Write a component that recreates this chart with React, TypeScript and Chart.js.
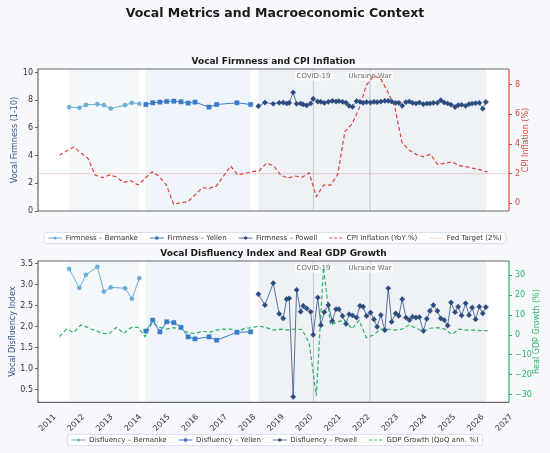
import React, { useEffect, useRef } from "react";
import { Chart, registerables } from "chart.js";

Chart.register(...registerables);

const FONT = "'DejaVu Sans', 'Liberation Sans', Arial, sans-serif";

// ---------- axes: extents and tick labels ----------
const X_MIN = 2010.5;
const X_MAX = 2027.0;
const YEAR_TICKS = [2011, 2012, 2013, 2014, 2015, 2016, 2017, 2018, 2019, 2020, 2021, 2022, 2023, 2024, 2025, 2026, 2027];
const FIRMNESS_RANGE = [0, 10.25];
const FIRMNESS_TICKS = [0, 2, 4, 6, 8, 10];
const CPI_RANGE = [-0.52, 9.06];
const CPI_TICKS = [0, 2, 4, 6, 8];
const DISFLUENCY_RANGE = [0.2, 3.57];
const DISFLUENCY_TICKS = [0.5, 1.0, 1.5, 2.0, 2.5, 3.0, 3.5];
const GDP_RANGE = [-33.8, 37.2];
const GDP_TICKS = [-30, -20, -10, 0, 10, 20, 30];

// ---------- quarterly macro series ----------
const QUARTERS = [
  2011.25, 2011.5, 2011.75,
  2012.0, 2012.25, 2012.5, 2012.75,
  2013.0, 2013.25, 2013.5, 2013.75,
  2014.0, 2014.25, 2014.5, 2014.75,
  2015.0, 2015.25, 2015.5, 2015.75,
  2016.0, 2016.25, 2016.5, 2016.75,
  2017.0, 2017.25, 2017.5, 2017.75,
  2018.0, 2018.25, 2018.5, 2018.75,
  2019.0, 2019.25, 2019.5, 2019.75,
  2020.0, 2020.25, 2020.5, 2020.75,
  2021.0, 2021.25, 2021.5, 2021.75,
  2022.0, 2022.25, 2022.5, 2022.75,
  2023.0, 2023.25, 2023.5, 2023.75,
  2024.0, 2024.25, 2024.5, 2024.75,
  2025.0, 2025.25, 2025.5, 2025.75,
  2026.0, 2026.25,
];
const CPI_YOY = [
  3.24, 3.53, 3.80, 3.41, 3.03, 1.91, 1.73, 1.91, 1.77, 1.41,
  1.53, 1.23, 1.68, 2.13, 1.80, 1.23, -0.07, 0.04, 0.11, 0.56,
  1.05, 1.01, 1.17, 1.84, 2.52, 1.91, 2.02, 2.13, 2.20, 2.70,
  2.54, 1.90, 1.70, 1.84, 1.75, 2.05, 0.45, 1.23, 1.23, 1.95,
  4.83, 5.35, 6.40, 7.95, 8.58, 8.43, 7.53, 6.50, 4.10, 3.59,
  3.30, 3.14, 3.30, 2.63, 2.70, 2.80, 2.54, 2.47, 2.36, 2.25,
  2.11,
];
const GDP_QOQ = [
  -0.8, 3.0, 1.3, 5.0, 3.7, 2.3, 0.8, 0.7, 3.9, 0.8,
  3.7, 3.9, -0.8, 6.2, 3.9, 3.0, 3.7, 3.0, 1.2, 0.7,
  2.0, 1.3, 2.5, 3.0, 3.0, 2.0, 3.4, 3.7, 4.5, 3.7,
  2.5, 3.0, 2.5, 3.0, 2.8, -4.0, -30.5, 33.8, 5.0, 6.7,
  7.4, 3.0, 7.4, -1.3, 0.0, 3.0, 3.0, 2.5, 3.0, 5.0,
  3.4, 2.0, 3.4, 3.7, 3.0, 0.3, 3.0, 2.5, 2.5, 2.2,
  2.2,
];
const FED_TARGET = 2;

// ---------- speeches by chair ----------
const BERNANKE_DATES = [2011.59, 2011.95, 2012.18, 2012.58, 2012.81, 2013.05, 2013.55, 2013.79, 2014.05];
const BERNANKE_FIRMNESS = [7.50, 7.45, 7.66, 7.71, 7.64, 7.40, 7.64, 7.81, 7.74];
const BERNANKE_DISFLUENCY = [3.38, 2.93, 3.24, 3.43, 2.84, 2.94, 2.92, 2.67, 3.16];

const YELLEN_DATES = [2014.28, 2014.52, 2014.77, 2015.01, 2015.26, 2015.51, 2015.76, 2016.0, 2016.49, 2016.76, 2017.47, 2017.95];
const YELLEN_FIRMNESS = [7.69, 7.81, 7.86, 7.91, 7.93, 7.88, 7.79, 7.86, 7.50, 7.69, 7.81, 7.69];
const YELLEN_DISFLUENCY = [1.90, 2.16, 1.88, 2.12, 2.10, 1.99, 1.76, 1.71, 1.76, 1.68, 1.87, 1.88];

const POWELL_DATES = [
  2018.22, 2018.45, 2018.74, 2018.95, 2019.09, 2019.21, 2019.30, 2019.44, 2019.56, 2019.70,
  2019.79, 2019.91, 2020.05, 2020.14, 2020.30, 2020.41, 2020.53, 2020.67, 2020.81, 2020.94,
  2021.04, 2021.17, 2021.29, 2021.40, 2021.52, 2021.66, 2021.78, 2021.89, 2022.01, 2022.15,
  2022.27, 2022.38, 2022.51, 2022.65, 2022.77, 2022.89, 2023.03, 2023.14, 2023.26, 2023.39,
  2023.51, 2023.62, 2023.74, 2023.86, 2024.00, 2024.12, 2024.23, 2024.35, 2024.49, 2024.61,
  2024.73, 2024.85, 2024.97, 2025.11, 2025.22, 2025.34, 2025.48, 2025.60, 2025.71, 2025.83,
  2025.96, 2026.08, 2026.19,
];
const POWELL_FIRMNESS = [
  7.57, 7.83, 7.74, 7.81, 7.83, 7.76, 7.81, 8.56, 7.74, 7.76,
  7.69, 7.62, 7.76, 8.10, 7.90, 7.88, 7.81, 7.88, 7.95, 7.90,
  7.93, 7.88, 7.81, 7.59, 7.52, 7.93, 7.88, 7.81, 7.86, 7.83,
  7.88, 7.86, 7.90, 7.95, 7.95, 7.90, 7.81, 7.81, 7.59, 7.86,
  7.90, 7.81, 7.76, 7.83, 7.71, 7.76, 7.76, 7.81, 7.81, 8.00,
  7.83, 7.76, 7.67, 7.50, 7.64, 7.67, 7.59, 7.71, 7.76, 7.78,
  7.81, 7.38, 7.86,
];
const POWELL_DISFLUENCY = [
  2.78, 2.52, 3.04, 2.31, 2.20, 2.66, 2.68, 0.33, 2.88, 2.36,
  2.50, 2.44, 2.36, 1.81, 2.70, 2.04, 2.35, 2.52, 2.14, 2.42,
  2.42, 2.26, 2.07, 2.30, 2.27, 2.22, 2.50, 2.48, 2.26, 2.34,
  2.18, 2.00, 2.28, 1.92, 2.92, 2.12, 2.32, 2.26, 2.66, 2.22,
  2.16, 2.24, 2.22, 2.23, 1.90, 2.19, 2.38, 2.52, 2.38, 2.20,
  2.16, 2.03, 2.58, 2.35, 2.48, 2.27, 2.56, 2.28, 2.46, 2.18,
  2.48, 2.32, 2.47,
];

// ---------- events ----------
const EVENT_NAMES = ["COVID-19", "Ukraine War"];
const EVENT_DATES = [2020.15, 2022.13];

// ---------- styles ----------
const BERNANKE_COLOR = "#6baed6";
const YELLEN_COLOR = "#3a7bc8";
const POWELL_COLOR = "#2b4a7e";
const POWELL_LINE = "rgba(43,74,126,0.75)";
const CPI_COLOR = "#d9463b";
const GDP_COLOR = "#2db565";
const SPINE = "#666666";
const TICK_TEXT = "#333333";
const AXIS_TITLE = "#34568f";
const LEGEND_FONT = 7;
const LEGEND_BOX = 14;

const pts = (xs: number[], ys: number[]) => xs.map((x, i) => ({ x, y: ys[i] }));

const CHAIR_SPANS = [
  { from: Math.min(...BERNANKE_DATES), to: Math.max(...BERNANKE_DATES), color: "rgba(107,174,214,0.07)" },
  { from: Math.min(...YELLEN_DATES), to: Math.max(...YELLEN_DATES), color: "rgba(58,123,200,0.08)" },
  { from: Math.min(...POWELL_DATES), to: Math.max(...POWELL_DATES), color: "rgba(43,74,126,0.08)" },
];
const EVENTS = EVENT_NAMES.map((name, i) => ({ name, at: EVENT_DATES[i] }));

function roundRectPath(ctx: CanvasRenderingContext2D, x: number, y: number, w: number, h: number, r: number) {
  ctx.beginPath();
  ctx.moveTo(x + r, y);
  ctx.lineTo(x + w - r, y);
  ctx.arcTo(x + w, y, x + w, y + r, r);
  ctx.lineTo(x + w, y + h - r);
  ctx.arcTo(x + w, y + h, x + w - r, y + h, r);
  ctx.lineTo(x + r, y + h);
  ctx.arcTo(x, y + h, x, y + h - r, r);
  ctx.lineTo(x, y + r);
  ctx.arcTo(x, y, x + r, y, r);
  ctx.closePath();
}

function drawMarker(ctx: CanvasRenderingContext2D, style: string, x: number, y: number, r: number, color: string) {
  ctx.save();
  ctx.fillStyle = color;
  ctx.beginPath();
  if (style === "rect") {
    ctx.rect(x - r, y - r, 2 * r, 2 * r);
  } else if (style === "rectRot") {
    ctx.moveTo(x, y - r * 1.3);
    ctx.lineTo(x + r * 1.3, y);
    ctx.lineTo(x, y + r * 1.3);
    ctx.lineTo(x - r * 1.3, y);
    ctx.closePath();
  } else {
    ctx.arc(x, y, r, 0, Math.PI * 2);
  }
  ctx.fill();
  ctx.restore();
}

const decor = {
  id: "decor",
  beforeDraw(chart: any) {
    const { ctx, chartArea: ca } = chart;
    ctx.save();
    ctx.fillStyle = "#ffffff";
    ctx.fillRect(ca.left, ca.top, ca.right - ca.left, ca.bottom - ca.top);
    const lg = chart.legend;
    if (lg && lg.legendHitBoxes && lg.legendHitBoxes.length) {
      const hb = lg.legendHitBoxes;
      const l = Math.min(...hb.map((h: any) => h.left)) - 4;
      const r = Math.max(...hb.map((h: any) => h.left + h.width)) + 4;
      const cy = hb[0].top + LEGEND_FONT / 2;
      roundRectPath(ctx, l, cy - 5.6, r - l, 11.2, 2);
      ctx.fillStyle = "rgba(255,255,255,0.9)";
      ctx.fill();
      ctx.strokeStyle = "#ccd5e6";
      ctx.lineWidth = 0.8;
      ctx.stroke();
    }
    ctx.restore();
  },
  beforeDatasetsDraw(chart: any) {
    const { ctx, chartArea: ca, scales } = chart;
    const xs = scales.x;
    ctx.save();
    ctx.beginPath();
    ctx.rect(ca.left, ca.top, ca.right - ca.left, ca.bottom - ca.top);
    ctx.clip();
    for (const s of CHAIR_SPANS) {
      const a = xs.getPixelForValue(s.from);
      const b = xs.getPixelForValue(s.to);
      ctx.fillStyle = s.color;
      ctx.fillRect(a, ca.top, b - a, ca.bottom - ca.top);
    }
    ctx.strokeStyle = "rgba(120,120,135,0.45)";
    ctx.lineWidth = 0.8;
    for (const e of EVENTS) {
      const px = xs.getPixelForValue(e.at);
      ctx.beginPath();
      ctx.moveTo(px, ca.top);
      ctx.lineTo(px, ca.bottom);
      ctx.stroke();
    }
    ctx.font = `7px ${FONT}`;
    ctx.textAlign = "center";
    ctx.textBaseline = "middle";
    for (const e of EVENTS) {
      const px = xs.getPixelForValue(e.at);
      const w = ctx.measureText(e.name).width;
      const cy = ca.top + 7;
      ctx.fillStyle = "rgba(255,255,255,0.75)";
      ctx.fillRect(px - w / 2 - 1.5, cy - 4.5, w + 3, 9);
      ctx.fillStyle = "#6a6a6a";
      ctx.fillText(e.name, px, cy);
    }
    ctx.restore();
  },
  afterDatasetsDraw(chart: any, _a: any, o: any) {
    const { ctx, chartArea: ca } = chart;
    ctx.save();
    ctx.lineWidth = 1.2;
    ctx.strokeStyle = SPINE;
    ctx.beginPath();
    ctx.moveTo(ca.right, ca.top);
    ctx.lineTo(ca.left, ca.top);
    ctx.lineTo(ca.left, ca.bottom);
    ctx.lineTo(ca.right, ca.bottom);
    ctx.stroke();
    ctx.strokeStyle = o.rightColor;
    ctx.beginPath();
    ctx.moveTo(ca.right, ca.top);
    ctx.lineTo(ca.right, ca.bottom);
    ctx.stroke();
    ctx.restore();
  },
  afterDraw(chart: any, _a: any, o: any) {
    const { ctx, chartArea: ca } = chart;
    const midY = (ca.top + ca.bottom) / 2;
    ctx.save();
    ctx.font = `8px ${FONT}`;
    ctx.textAlign = "center";
    ctx.textBaseline = "middle";
    ctx.translate(o.leftTitleX, midY);
    ctx.rotate(-Math.PI / 2);
    ctx.fillStyle = AXIS_TITLE;
    ctx.fillText(o.leftTitle, 0, 0);
    ctx.restore();
    ctx.save();
    ctx.font = `8px ${FONT}`;
    ctx.textAlign = "center";
    ctx.textBaseline = "middle";
    ctx.translate(ca.right + o.rightTitleOffset, midY);
    ctx.rotate(-Math.PI / 2);
    ctx.fillStyle = o.rightColor;
    ctx.fillText(o.rightTitle, 0, 0);
    ctx.restore();

    const lg = chart.legend;
    if (lg && lg.legendHitBoxes) {
      lg.legendHitBoxes.forEach((hb: any, i: number) => {
        const item = lg.legendItems[i];
        const ds: any = chart.data.datasets[item.datasetIndex];
        const y = hb.top + LEGEND_FONT / 2;
        ctx.save();
        ctx.strokeStyle = ds.borderColor;
        ctx.lineWidth = ds.borderWidth;
        ctx.setLineDash(ds.borderDash ? [3, 2] : []);
        ctx.beginPath();
        ctx.moveTo(hb.left, y);
        ctx.lineTo(hb.left + LEGEND_BOX, y);
        ctx.stroke();
        ctx.restore();
        if (ds.pointRadius > 0) {
          drawMarker(ctx, ds.pointStyle, hb.left + LEGEND_BOX / 2, y, 1.6, ds.pointBackgroundColor);
        }
      });
    }
  },
};

const legendLabels = (chart: any) =>
  (Chart.defaults.plugins.legend.labels as any).generateLabels(chart).map((it: any) => ({
    ...it,
    fillStyle: "rgba(0,0,0,0)",
    strokeStyle: "rgba(0,0,0,0)",
    lineWidth: 0,
  }));

const tickGrid = (color: string) => ({
  display: true,
  drawOnChartArea: false,
  drawTicks: true,
  tickLength: 3,
  color,
  lineWidth: 1,
});

const fixedTicks = (vals: number[]) => (s: any) => {
  s.ticks = vals.map((v) => ({ value: v }));
};

const legendOpts = {
  position: "bottom" as const,
  labels: {
    boxWidth: LEGEND_BOX,
    boxHeight: 0,
    padding: 12,
    color: TICK_TEXT,
    font: { size: LEGEND_FONT, family: FONT },
    generateLabels: legendLabels,
  },
};

function chairSeries(label: string, xs: number[], ys: number[], color: string, line: string, style: string, r: number, axis: string) {
  return {
    label,
    data: pts(xs, ys),
    borderColor: line,
    backgroundColor: color,
    pointBackgroundColor: color,
    pointBorderColor: color,
    pointBorderWidth: 0.5,
    borderWidth: 1,
    pointStyle: style,
    pointRadius: r,
    yAxisID: axis,
  };
}

function topConfig(): any {
  return {
    type: "line",
    data: {
      datasets: [
        chairSeries("Firmness \u2013 Bernanke", BERNANKE_DATES, BERNANKE_FIRMNESS, BERNANKE_COLOR, BERNANKE_COLOR, "circle", 2.1, "y"),
        chairSeries("Firmness \u2013 Yellen", YELLEN_DATES, YELLEN_FIRMNESS, YELLEN_COLOR, YELLEN_COLOR, "rect", 3.0, "y"),
        chairSeries("Firmness \u2013 Powell", POWELL_DATES, POWELL_FIRMNESS, POWELL_COLOR, POWELL_LINE, "rectRot", 2.6, "y"),
        {
          label: "CPI Inflation (YoY %)",
          data: pts(QUARTERS, CPI_YOY),
          borderColor: CPI_COLOR,
          backgroundColor: CPI_COLOR,
          borderWidth: 1.2,
          borderDash: [4, 2.5],
          pointRadius: 0,
          yAxisID: "y1",
        },
        {
          label: "Fed Target (2%)",
          data: [{ x: X_MIN, y: FED_TARGET }, { x: X_MAX, y: FED_TARGET }],
          borderColor: "rgba(217,70,59,0.3)",
          backgroundColor: "rgba(217,70,59,0.3)",
          borderWidth: 0.8,
          pointRadius: 0,
          yAxisID: "y1",
        },
      ],
    },
    options: {
      responsive: false,
      animation: false,
      events: [],
      layout: { padding: { left: 0, right: 0, top: 0, bottom: 0.5 } },
      scales: {
        x: {
          type: "linear",
          min: X_MIN,
          max: X_MAX,
          afterBuildTicks: fixedTicks(YEAR_TICKS),
          ticks: { display: false },
          grid: { display: false },
          border: { display: false },
          afterFit: (s: any) => { s.height = 11.5; },
        },
        y: {
          type: "linear",
          position: "left",
          min: FIRMNESS_RANGE[0],
          max: FIRMNESS_RANGE[1],
          afterBuildTicks: fixedTicks(FIRMNESS_TICKS),
          ticks: { color: TICK_TEXT, font: { size: 8 }, padding: 2, callback: (v: any) => String(v) },
          grid: tickGrid(SPINE),
          border: { display: false },
          afterFit: (s: any) => { s.width = 38; },
        },
        y1: {
          type: "linear",
          position: "right",
          min: CPI_RANGE[0],
          max: CPI_RANGE[1],
          afterBuildTicks: fixedTicks(CPI_TICKS),
          ticks: { color: CPI_COLOR, font: { size: 8 }, padding: 3, callback: (v: any) => String(v) },
          grid: tickGrid(CPI_COLOR),
          border: { display: false },
          afterFit: (s: any) => { s.width = 41; },
        },
      },
      plugins: {
        title: {
          display: true,
          text: "Vocal Metrics and Macroeconomic Context",
          color: "#1a1a1a",
          font: { size: 12.5, weight: "bold", family: FONT },
          padding: { top: 6, bottom: 0 },
        },
        subtitle: {
          display: true,
          fullSize: false,
          text: "Vocal Firmness and CPI Inflation",
          color: "#1a1a1a",
          font: { size: 9, weight: "bold", family: FONT },
          padding: { top: 35.1, bottom: 2.1 },
        },
        legend: legendOpts,
        tooltip: { enabled: false },
        decor: {
          leftTitle: "Vocal Firmness (1-10)",
          leftTitleX: 15,
          rightTitle: "CPI Inflation (%)",
          rightTitleOffset: 17,
          rightColor: CPI_COLOR,
        },
      },
    },
    plugins: [decor],
  };
}

function bottomConfig(): any {
  return {
    type: "line",
    data: {
      datasets: [
        chairSeries("Disfluency \u2013 Bernanke", BERNANKE_DATES, BERNANKE_DISFLUENCY, BERNANKE_COLOR, BERNANKE_COLOR, "circle", 2.1, "y"),
        chairSeries("Disfluency \u2013 Yellen", YELLEN_DATES, YELLEN_DISFLUENCY, YELLEN_COLOR, YELLEN_COLOR, "rect", 3.0, "y"),
        chairSeries("Disfluency \u2013 Powell", POWELL_DATES, POWELL_DISFLUENCY, POWELL_COLOR, POWELL_LINE, "rectRot", 2.6, "y"),
        {
          label: "GDP Growth (QoQ ann. %)",
          data: pts(QUARTERS, GDP_QOQ),
          borderColor: GDP_COLOR,
          backgroundColor: GDP_COLOR,
          borderWidth: 1.2,
          borderDash: [4, 2.5],
          pointRadius: 0,
          yAxisID: "y1",
        },
      ],
    },
    options: {
      responsive: false,
      animation: false,
      events: [],
      layout: { padding: { left: 0, right: 0, top: 0, bottom: 2.5 } },
      scales: {
        x: {
          type: "linear",
          min: X_MIN,
          max: X_MAX,
          afterBuildTicks: fixedTicks(YEAR_TICKS),
          ticks: {
            autoSkip: false,
            minRotation: 45,
            maxRotation: 45,
            padding: 2,
            labelOffset: 2.5,
            color: TICK_TEXT,
            font: { size: 8 },
            callback: (v: any) => String(v),
          },
          grid: { display: false },
          border: { display: false },
          afterFit: (s: any) => {
            s.height = 22.2;
            s._computeLabelArea = () => null;
          },
        },
        y: {
          type: "linear",
          position: "left",
          min: DISFLUENCY_RANGE[0],
          max: DISFLUENCY_RANGE[1],
          afterBuildTicks: fixedTicks(DISFLUENCY_TICKS),
          ticks: { color: TICK_TEXT, font: { size: 8 }, padding: 2, callback: (v: any) => Number(v).toFixed(1) },
          grid: tickGrid(SPINE),
          border: { display: false },
          afterFit: (s: any) => { s.width = 38; },
        },
        y1: {
          type: "linear",
          position: "right",
          min: GDP_RANGE[0],
          max: GDP_RANGE[1],
          afterBuildTicks: fixedTicks(GDP_TICKS),
          ticks: {
            color: GDP_COLOR,
            font: { size: 8 },
            padding: 3,
            callback: (v: any) => (Number(v) < 0 ? "\u2212" + Math.abs(Number(v)) : String(v)),
          },
          grid: tickGrid(GDP_COLOR),
          border: { display: false },
          afterFit: (s: any) => { s.width = 41; },
        },
      },
      plugins: {
        title: {
          display: true,
          fullSize: false,
          text: "Vocal Disfluency Index and Real GDP Growth",
          color: "#1a1a1a",
          font: { size: 9, weight: "bold", family: FONT },
          padding: { top: 2.6, bottom: 1.6 },
        },
        legend: legendOpts,
        tooltip: { enabled: false },
        decor: {
          leftTitle: "Vocal Disfluency Index",
          leftTitleX: 12.7,
          rightTitle: "Real GDP Growth (%)",
          rightTitleOffset: 28,
          rightColor: GDP_COLOR,
        },
      },
    },
    plugins: [decor],
  };
}

export default function App() {
  const topRef = useRef<HTMLCanvasElement>(null);
  const botRef = useRef<HTMLCanvasElement>(null);

  useEffect(() => {
    Chart.defaults.font.family = FONT;
    Chart.defaults.color = TICK_TEXT;
    const top = new Chart(topRef.current as HTMLCanvasElement, topConfig());
    const bot = new Chart(botRef.current as HTMLCanvasElement, bottomConfig());
    return () => {
      top.destroy();
      bot.destroy();
    };
  }, []);

  return (
    <div
      style={{
        position: "absolute",
        left: 0,
        top: 0,
        width: 550,
        height: 453,
        overflow: "hidden",
        background: "#f7f8fb",
      }}
    >
      <canvas ref={topRef} width={550} height={252} style={{ position: "absolute", left: 0, top: 0 }} />
      <canvas ref={botRef} width={550} height={210} style={{ position: "absolute", left: 0, top: 246 }} />
    </div>
  );
}
